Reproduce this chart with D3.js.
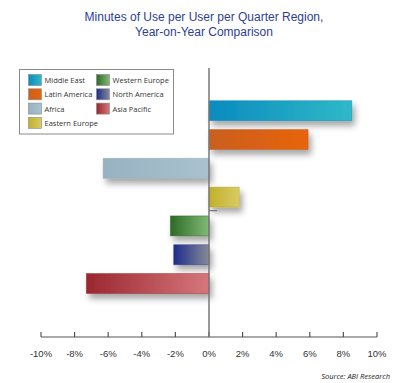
<!DOCTYPE html>
<html><head><meta charset="utf-8">
<script src="https://cdn.jsdelivr.net/npm/d3@7"></script>
<style>html,body{margin:0;padding:0;background:#fff;}svg{display:block;}</style>
</head><body>
<svg id="c" width="400" height="383"></svg>
<script>
const categories = ["Middle East","Latin America","Africa","Eastern Europe","Western Europe","North America","Asia Pacific"];
const values = [8.5, 5.9, -6.3, 1.8, -2.3, -2.1, -7.3];
const tickValues = [-10,-8,-6,-4,-2,0,2,4,6,8,10];
const colorsDark = ["#0a8bbf","#c95f1e","#98b2c2","#c2b02a","#2d6a27","#1d2c8c","#9a272f"];
const colorsLight = ["#2fb9c7","#e8640a","#a9c2ce","#d9cb62","#82ba76","#878c95","#d6777c"];
const legendOrder = [["Middle East","Western Europe"],["Latin America","North America"],["Africa","Asia Pacific"],["Eastern Europe",null]];

const svg = d3.select("#c");
const defs = svg.append("defs");
const f = defs.append("filter").attr("id","sh").attr("x","-20%").attr("y","-50%").attr("width","150%").attr("height","250%");
f.append("feDropShadow").attr("dx",3).attr("dy",5).attr("stdDeviation",3).attr("flood-color","#000").attr("flood-opacity",0.35);
categories.forEach((c,i)=>{
  const g = defs.append("linearGradient").attr("id","g"+i).attr("x1","0").attr("x2","1").attr("y1","0").attr("y2","0");
  g.append("stop").attr("offset","0").attr("stop-color",colorsDark[i]);
  g.append("stop").attr("offset","1").attr("stop-color",colorsLight[i]);
});

const x = d3.scaleLinear().domain([-10,10]).range([41,377]);
const y = d3.scaleBand().domain(categories).range([96.3,297.9]).paddingInner(0.306).paddingOuter(0.153);

// title
svg.append("text").attr("x",204).attr("y",20.5).attr("text-anchor","middle")
  .attr("font-family","Liberation Sans, Arial, sans-serif").attr("font-size",12).attr("fill","#2d3e92")
  .text("Minutes of Use per User per Quarter Region,");
svg.append("text").attr("x",204).attr("y",36).attr("text-anchor","middle")
  .attr("font-family","Liberation Sans, Arial, sans-serif").attr("font-size",12).attr("fill","#2d3e92")
  .text("Year-on-Year Comparison");

// bars
svg.append("g").selectAll("rect").data(values).join("rect")
  .attr("x",(d)=>x(Math.min(0,d)))
  .attr("y",(d,i)=>y(categories[i]))
  .attr("width",d=>Math.abs(x(d)-x(0)))
  .attr("height",y.bandwidth())
  .attr("fill",(d,i)=>"url(#g"+i+")")
  .attr("stroke",(d,i)=>d3.color(colorsDark[i]).darker(0.3))
  .attr("stroke-opacity",0.5)
  .attr("stroke-width",0.8)
  .attr("filter","url(#sh)");

// axis
const axisY = 337;
const ax = svg.append("g").attr("transform",`translate(0,${axisY})`);
ax.append("line").attr("x1",x(-10)).attr("x2",x(10)).attr("stroke","#555").attr("stroke-width",1.2);
ax.selectAll("line.t").data(tickValues).join("line").attr("class","t")
  .attr("x1",d=>x(d)).attr("x2",d=>x(d)).attr("y1",0).attr("y2",-5).attr("stroke","#555").attr("stroke-width",1.2);
ax.selectAll("text").data(tickValues).join("text")
  .attr("x",d=>x(d)).attr("y",20).attr("text-anchor","middle")
  .attr("font-family","Liberation Sans, Arial, sans-serif").attr("font-size",9.5).attr("fill","#333")
  .text(d=>(d<0?"-":"")+Math.abs(d)+"%");

// zero line
svg.append("line").attr("x1",x(0)).attr("x2",x(0)).attr("y1",68).attr("y2",axisY)
  .attr("stroke","#777").attr("stroke-width",1.5);
svg.append("line").attr("x1",x(0)).attr("x2",x(0)+8).attr("y1",210.7).attr("y2",210.7)
  .attr("stroke","#666").attr("stroke-width",1);

// legend
const lg = svg.append("g");
lg.append("rect").attr("x",19.5).attr("y",69.5).attr("width",154).attr("height",64.5)
  .attr("fill","#fff").attr("stroke","#8a8a8a").attr("stroke-width",1);
legendOrder.forEach((row,r)=>{
  row.forEach((name,c)=>{
    if(!name) return;
    const i = categories.indexOf(name);
    const sx = c===0 ? 28.5 : 96.5;
    const sy = 74.5 + r*14.3;
    lg.append("rect").attr("x",sx).attr("y",sy).attr("width",13).attr("height",11)
      .attr("fill","url(#g"+i+")").attr("stroke","#888").attr("stroke-width",0.6);
    lg.append("text").attr("x",sx+16).attr("y",sy+8.5)
      .attr("font-family","Open Sans, Liberation Sans, sans-serif").attr("font-size",7.5).attr("fill","#333")
      .text(name);
  });
});

// source
svg.append("text").attr("x",390).attr("y",379).attr("text-anchor","end")
  .attr("font-family","Open Sans, Liberation Sans, sans-serif").attr("font-style","italic").attr("font-size",7.5).attr("fill","#222")
  .text("Source: ABI Research");
</script>
</body></html>
